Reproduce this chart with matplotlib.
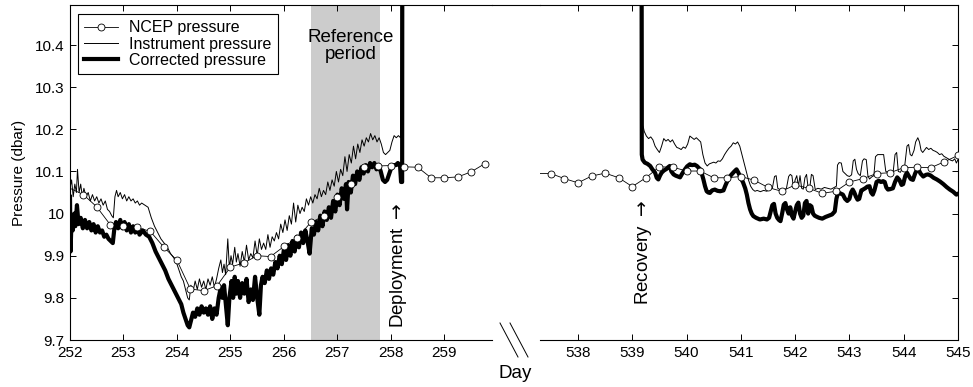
import matplotlib
matplotlib.use("Agg")
import matplotlib.pyplot as plt
from matplotlib.lines import Line2D

plt.rcParams['font.family'] = ['Liberation Sans', 'DejaVu Sans']

# NCEP pressure, 6-hourly
ncep_day_a = [252.0, 252.25, 252.5, 252.75, 253.0, 253.25, 253.5, 253.75, 254.0, 254.25, 254.5,
              254.75, 255.0, 255.25, 255.5, 255.75, 256.0, 256.25, 256.5, 256.75, 257.0,
              257.25, 257.5, 257.75, 258.0, 258.25, 258.5, 258.75, 259.0, 259.25, 259.5, 259.75]
ncep_val_a = [10.06, 10.045, 10.016, 9.974, 9.970, 9.967, 9.958, 9.921, 9.889, 9.821, 9.817,
              9.829, 9.873, 9.883, 9.900, 9.898, 9.922, 9.942, 9.979, 9.994, 10.040,
              10.070, 10.111, 10.113, 10.114, 10.111, 10.110, 10.085, 10.085, 10.087, 10.099, 10.118]
ncep_day_b = [537.25, 537.5, 537.75, 538.0, 538.25, 538.5, 538.75, 539.0, 539.25, 539.5, 539.75, 540.0,
              540.25, 540.5, 540.75, 541.0, 541.25, 541.5, 541.75, 542.0, 542.25, 542.5,
              542.75, 543.0, 543.25, 543.5, 543.75, 544.0, 544.25, 544.5, 544.75, 545.0]
ncep_val_b = [10.095, 10.095, 10.083, 10.073, 10.089, 10.096, 10.085, 10.064, 10.085, 10.111, 10.110, 10.101,
              10.101, 10.085, 10.085, 10.088, 10.079, 10.062, 10.053, 10.068, 10.060, 10.048,
              10.053, 10.075, 10.083, 10.095, 10.097, 10.109, 10.110, 10.109, 10.123, 10.138]

# instrument pressure, deployment
inst_day_a = [252.00, 252.03, 252.06, 252.09, 252.12, 252.14, 252.17, 252.20, 252.23, 252.26,
              252.30, 252.34, 252.38, 252.42, 252.46, 252.50, 252.54, 252.58, 252.62, 252.66,
              252.70, 252.74, 252.78, 252.81, 252.84, 252.87, 252.90, 252.94, 252.98, 253.02,
              253.06, 253.10, 253.14, 253.18, 253.22, 253.26, 253.30, 253.34, 253.40, 253.46,
              253.52, 253.58, 253.64, 253.70, 253.76, 253.82, 253.88, 253.94, 254.00, 254.04,
              254.08, 254.12, 254.16, 254.20, 254.23, 254.26, 254.30, 254.34, 254.38, 254.42,
              254.46, 254.50, 254.54, 254.58, 254.62, 254.66, 254.70, 254.74, 254.78, 254.82,
              254.85, 254.88, 254.91, 254.95, 254.98, 255.01, 255.04, 255.08, 255.11, 255.14,
              255.18, 255.22, 255.26, 255.30, 255.34, 255.38, 255.42, 255.46, 255.50, 255.54,
              255.58, 255.62, 255.66, 255.70, 255.74, 255.78, 255.82, 255.86, 255.90, 255.94,
              255.98, 256.02, 256.06, 256.10, 256.14, 256.18, 256.22, 256.26, 256.30, 256.34,
              256.38, 256.42, 256.46, 256.50, 256.54, 256.58, 256.62, 256.66, 256.70, 256.74,
              256.78, 256.82, 256.86, 256.90, 256.94, 256.98, 257.02, 257.06, 257.10, 257.14,
              257.18, 257.22, 257.26, 257.30, 257.34, 257.38, 257.42, 257.46, 257.50, 257.54,
              257.58, 257.62, 257.66, 257.70, 257.74, 257.78, 257.82, 257.86, 257.90, 257.94,
              257.98, 258.02, 258.06, 258.10, 258.14, 258.18, 258.20]
inst_val_a = [10.06, 10.08, 10.04, 10.07, 10.05, 10.105, 10.05, 10.07, 10.04, 10.06,
              10.04, 10.05, 10.03, 10.045, 10.03, 10.04, 10.025, 10.035, 10.02, 10.03,
              10.01, 10.005, 9.995, 9.99, 10.04, 10.055, 10.04, 10.05, 10.035, 10.045,
              10.03, 10.04, 10.03, 10.035, 10.025, 10.03, 10.02, 10.025, 10.02, 10.015,
              9.99, 9.97, 9.955, 9.94, 9.93, 9.92, 9.905, 9.895, 9.88, 9.865,
              9.85, 9.84, 9.82, 9.80, 9.795, 9.83, 9.815, 9.84, 9.82, 9.845,
              9.825, 9.84, 9.82, 9.845, 9.83, 9.85, 9.825, 9.845, 9.87, 9.89,
              9.86, 9.88, 9.855, 9.94, 9.87, 9.90, 9.88, 9.92, 9.885, 9.905,
              9.875, 9.91, 9.885, 9.925, 9.89, 9.905, 9.895, 9.935, 9.90, 9.94,
              9.915, 9.93, 9.915, 9.95, 9.92, 9.945, 9.935, 9.955, 9.94, 9.975,
              9.955, 9.985, 9.96, 9.995, 9.975, 10.025, 9.98, 10.02, 10.0, 10.015,
              10.005, 10.035, 10.02, 10.04, 10.025, 10.045, 10.035, 10.06, 10.04, 10.055,
              10.045, 10.075, 10.055, 10.08, 10.065, 10.10, 10.075, 10.105, 10.09, 10.135,
              10.10, 10.14, 10.12, 10.16, 10.13, 10.165, 10.145, 10.175, 10.16, 10.18,
              10.17, 10.19, 10.175, 10.185, 10.17, 10.18, 10.165, 10.145, 10.14, 10.145,
              10.15, 10.17, 10.185, 10.18, 10.185, 10.18, 10.7]

# corrected pressure, deployment
corr_day_a = [252.00, 252.01, 252.03, 252.05, 252.08, 252.10, 252.13, 252.16, 252.20, 252.24,
              252.28, 252.32, 252.36, 252.40, 252.44, 252.48, 252.52, 252.56, 252.60, 252.64,
              252.68, 252.72, 252.76, 252.80, 252.83, 252.86, 252.90, 252.94, 252.98, 253.02,
              253.06, 253.10, 253.14, 253.18, 253.22, 253.26, 253.30, 253.36, 253.42, 253.48,
              253.54, 253.60, 253.66, 253.72, 253.78, 253.84, 253.90, 253.96, 254.02, 254.08,
              254.12, 254.16, 254.20, 254.23, 254.26, 254.30, 254.34, 254.38, 254.42, 254.46,
              254.50, 254.54, 254.58, 254.62, 254.66, 254.70, 254.74, 254.78, 254.82, 254.85,
              254.88, 254.91, 254.95, 254.98, 255.02, 255.05, 255.08, 255.11, 255.14, 255.18,
              255.22, 255.26, 255.30, 255.34, 255.38, 255.42, 255.46, 255.50, 255.54, 255.57,
              255.60, 255.64, 255.68, 255.72, 255.76, 255.80, 255.84, 255.88, 255.92, 255.96,
              256.00, 256.04, 256.08, 256.12, 256.16, 256.20, 256.24, 256.28, 256.32, 256.36,
              256.40, 256.44, 256.48, 256.52, 256.56, 256.60, 256.64, 256.68, 256.72, 256.76,
              256.80, 256.84, 256.88, 256.92, 256.96, 257.00, 257.04, 257.08, 257.12, 257.16,
              257.18, 257.21, 257.25, 257.29, 257.33, 257.37, 257.41, 257.45, 257.49, 257.53,
              257.57, 257.61, 257.65, 257.69, 257.73, 257.77, 257.81, 257.85, 257.89, 257.93,
              257.97, 258.01, 258.05, 258.09, 258.13, 258.17, 258.19, 258.21, 258.215]
corr_val_a = [10.04, 9.91, 9.99, 9.96, 10.0, 9.97, 10.02, 9.975, 9.99, 9.965,
              9.985, 9.965, 9.98, 9.96, 9.975, 9.955, 9.97, 9.955, 9.96, 9.945,
              9.95, 9.94, 9.935, 9.93, 9.965, 9.98, 9.965, 9.985, 9.965, 9.98,
              9.96, 9.975, 9.955, 9.97, 9.955, 9.965, 9.95, 9.96, 9.95, 9.945,
              9.93, 9.91, 9.895, 9.88, 9.865, 9.845, 9.83, 9.815, 9.80, 9.785,
              9.765, 9.75, 9.735, 9.73, 9.745, 9.765, 9.755, 9.775, 9.76, 9.78,
              9.765, 9.775, 9.76, 9.78, 9.75, 9.775, 9.76, 9.80, 9.825, 9.80,
              9.83, 9.79, 9.735, 9.80, 9.84, 9.80, 9.85, 9.81, 9.84, 9.80,
              9.835, 9.81, 9.845, 9.79, 9.82, 9.795, 9.85, 9.80, 9.76, 9.83,
              9.85, 9.835, 9.865, 9.845, 9.87, 9.855, 9.885, 9.87, 9.90, 9.88,
              9.915, 9.89, 9.925, 9.90, 9.935, 9.91, 9.945, 9.92, 9.955, 9.93,
              9.96, 9.935, 9.905, 9.965, 9.95, 9.98, 9.96, 9.995, 9.97, 10.005,
              9.985, 10.015, 9.99, 10.03, 10.005, 10.045, 10.02, 10.06, 10.035, 10.07,
              10.01, 10.075, 10.05, 10.09, 10.07, 10.10, 10.08, 10.11, 10.095, 10.115,
              10.10, 10.12, 10.11, 10.12, 10.105, 10.115, 10.10, 10.08, 10.075, 10.08,
              10.095, 10.11, 10.115, 10.115, 10.12, 10.115, 10.075, 10.075, 11.0]

# instrument pressure, recovery
inst_day_b = [539.19, 539.195, 539.22, 539.26, 539.30, 539.34, 539.38, 539.42, 539.46, 539.50,
              539.54, 539.58, 539.62, 539.66, 539.70, 539.74, 539.78, 539.82, 539.86, 539.90,
              539.94, 539.98, 540.02, 540.06, 540.10, 540.14, 540.18, 540.22, 540.26, 540.30,
              540.34, 540.38, 540.42, 540.46, 540.50, 540.54, 540.58, 540.62, 540.66, 540.70,
              540.74, 540.78, 540.82, 540.86, 540.90, 540.94, 540.98, 541.02, 541.06, 541.10,
              541.14, 541.18, 541.22, 541.26, 541.30, 541.36, 541.42, 541.48,
              541.54, 541.58, 541.62, 541.65, 541.68, 541.72, 541.76, 541.80, 541.84, 541.88,
              541.91, 541.94, 541.97, 542.00, 542.03, 542.06, 542.09, 542.12, 542.15, 542.18,
              542.21, 542.24, 542.27, 542.30, 542.33, 542.37, 542.42, 542.48, 542.54, 542.60,
              542.66, 542.72, 542.76, 542.78, 542.81, 542.85, 542.88, 542.92, 542.96, 543.00,
              543.04, 543.07, 543.10, 543.13, 543.16, 543.20, 543.24, 543.27, 543.31, 543.34,
              543.37, 543.41, 543.45, 543.48, 543.52, 543.58, 543.63, 543.67, 543.71, 543.76,
              543.80, 543.84, 543.87, 543.90, 543.94, 543.98, 544.02, 544.06, 544.09, 544.12,
              544.15, 544.19, 544.22, 544.26, 544.29, 544.32, 544.35, 544.39, 544.42, 544.46,
              544.50, 544.54, 544.58, 544.62, 544.66, 544.70, 544.74, 544.78, 544.82, 544.86,
              544.90, 544.94, 544.97, 545.00]
inst_val_b = [10.7, 10.21, 10.195, 10.184, 10.178, 10.182, 10.175, 10.16, 10.152, 10.145,
              10.16, 10.178, 10.172, 10.176, 10.17, 10.175, 10.165, 10.157, 10.155, 10.152,
              10.158, 10.155, 10.165, 10.184, 10.18, 10.176, 10.18, 10.175, 10.17, 10.14,
              10.12, 10.113, 10.118, 10.12, 10.122, 10.12, 10.125, 10.124, 10.13, 10.14,
              10.148, 10.155, 10.16, 10.168, 10.165, 10.17, 10.16, 10.14, 10.12, 10.10,
              10.08, 10.065, 10.057, 10.053, 10.055, 10.052, 10.055, 10.053,
              10.064, 10.06, 10.088, 10.09, 10.06, 10.057, 10.058, 10.056, 10.06, 10.088,
              10.093, 10.09, 10.06, 10.08, 10.09, 10.065, 10.09, 10.06, 10.058, 10.085,
              10.093, 10.06, 10.062, 10.093, 10.09, 10.057, 10.06, 10.058, 10.062, 10.06,
              10.058, 10.062, 10.065, 10.115, 10.121, 10.12, 10.10, 10.095, 10.09, 10.088,
              10.092, 10.125, 10.129, 10.105, 10.095, 10.09, 10.125, 10.13, 10.128, 10.09,
              10.082, 10.087, 10.09, 10.135, 10.14, 10.14, 10.14, 10.10, 10.098, 10.094,
              10.092, 10.14, 10.145, 10.10, 10.098, 10.11, 10.115, 10.16, 10.164, 10.14,
              10.137, 10.15, 10.17, 10.18, 10.17, 10.15, 10.145, 10.152, 10.157, 10.152,
              10.155, 10.15, 10.148, 10.145, 10.14, 10.142, 10.136, 10.133, 10.13, 10.127,
              10.125, 10.13, 10.12, 10.128]

# corrected pressure, recovery
corr_day_b = [539.17, 539.175, 539.19, 539.23, 539.28, 539.33, 539.37, 539.42, 539.45, 539.48,
              539.51, 539.54, 539.58, 539.63, 539.66, 539.69, 539.72, 539.76, 539.80, 539.84,
              539.88, 539.92, 539.97, 540.01, 540.06, 540.10, 540.15, 540.19, 540.25, 540.28,
              540.31, 540.34, 540.37, 540.40, 540.43, 540.47, 540.52, 540.57, 540.62, 540.68,
              540.71, 540.74, 540.78, 540.83, 540.88, 540.92, 540.95, 540.98, 541.01, 541.04,
              541.08, 541.11, 541.14, 541.17, 541.20, 541.23, 541.28, 541.35, 541.42, 541.48,
              541.52, 541.55, 541.58, 541.61, 541.64, 541.67, 541.70, 541.73, 541.76, 541.79,
              541.82, 541.85, 541.88, 541.91, 541.94, 541.97, 542.00, 542.03, 542.06, 542.09,
              542.12, 542.15, 542.18, 542.21, 542.24, 542.27, 542.30, 542.33, 542.36, 542.39,
              542.44, 542.50, 542.56, 542.62, 542.68, 542.73, 542.76, 542.79, 542.83, 542.88,
              542.92, 542.96, 543.00, 543.03, 543.06, 543.09, 543.12, 543.15, 543.18, 543.22,
              543.25, 543.29, 543.33, 543.37, 543.40, 543.43, 543.46, 543.50, 543.54, 543.58,
              543.62, 543.65, 543.68, 543.71, 543.75, 543.80, 543.84, 543.88, 543.92, 543.96,
              543.99, 544.03, 544.06, 544.09, 544.13, 544.17, 544.21, 544.24, 544.27, 544.31,
              544.36, 544.41, 544.45, 544.50, 544.55, 544.61, 544.67, 544.73, 544.79, 544.85,
              544.91, 544.97, 545.00]
corr_val_b = [10.7, 10.14, 10.128, 10.121, 10.118, 10.113, 10.105, 10.097, 10.085, 10.081,
              10.09, 10.097, 10.102, 10.106, 10.11, 10.113, 10.10, 10.093, 10.09, 10.088,
              10.086, 10.095, 10.105, 10.112, 10.117, 10.115, 10.116, 10.113, 10.105, 10.095,
              10.081, 10.065, 10.053, 10.05, 10.049, 10.055, 10.057, 10.054, 10.053, 10.055,
              10.065, 10.074, 10.085, 10.093, 10.10, 10.105, 10.098, 10.09, 10.082, 10.074,
              10.06, 10.045, 10.025, 10.01, 10.0, 9.994, 9.99, 9.986, 9.988, 9.986,
              9.99, 10.005, 10.02, 10.023, 10.0, 9.99, 9.985, 9.982, 10.0, 10.021,
              10.025, 10.01, 10.0, 10.015, 9.995, 9.988, 10.005, 10.02, 10.026, 10.0,
              9.99, 9.995, 10.025, 10.03, 10.0, 10.02, 10.017, 10.0, 9.995, 9.993,
              9.99, 9.988, 9.992, 9.995, 9.998, 10.005, 10.035, 10.05, 10.048, 10.045,
              10.035, 10.03, 10.035, 10.05, 10.057, 10.05, 10.04, 10.033, 10.035, 10.055,
              10.057, 10.06, 10.064, 10.065, 10.05, 10.045, 10.055, 10.075, 10.078, 10.075,
              10.077, 10.075, 10.062, 10.057, 10.058, 10.06, 10.075, 10.086, 10.08, 10.068,
              10.07, 10.09, 10.097, 10.09, 10.082, 10.08, 10.095, 10.103, 10.105, 10.095,
              10.088, 10.092, 10.093, 10.09, 10.085, 10.081, 10.076, 10.07, 10.063, 10.057,
              10.052, 10.045, 10.047]

ref_period = (256.5, 257.8)
yticks = [9.7, 9.8, 9.9, 10.0, 10.1, 10.2, 10.3, 10.4]
ytick_labels = ['9.7', '9.8', '9.9', '10', '10.1', '10.2', '10.3', '10.4']
xticks_a = [252, 253, 254, 255, 256, 257, 258, 259]
xticks_b = [538, 539, 540, 541, 542, 543, 544, 545]

W, H = 973, 387
fig = plt.figure(figsize=(W / 100, H / 100), dpi=100)
ax1 = fig.add_axes([70 / W, 1 - 340 / H, 422 / W, 335 / H])
ax2 = fig.add_axes([540 / W, 1 - 340 / H, 418 / W, 335 / H])

ncep_style = dict(color='black', lw=0.6, marker='o', ms=5, mfc='white', mec='black', mew=0.6, zorder=5)

ax1.axvspan(*ref_period, color='#cccccc', lw=0, zorder=0)
ax1.plot(inst_day_a, inst_val_a, color='black', lw=0.7, zorder=3, label='Instrument pressure')
ax1.plot(corr_day_a, corr_val_a, color='black', lw=3.0, zorder=4, label='Corrected pressure')
# first 6-hourly value sits on the left frame, no marker drawn there
ax1.plot(ncep_day_a, ncep_val_a, markevery=list(range(1, len(ncep_day_a))),
         label='NCEP pressure', **ncep_style)

ax2.plot(inst_day_b, inst_val_b, color='black', lw=0.7, zorder=3)
ax2.plot(corr_day_b, corr_val_b, color='black', lw=3.0, zorder=4)
ax2.plot(ncep_day_b, ncep_val_b, markevery=list(range(1, len(ncep_day_b))), **ncep_style)

for ax in (ax1, ax2):
    ax.set_ylim(9.7, 10.495)
    ax.set_yticks(yticks)
    for s in ax.spines.values():
        s.set_linewidth(0.8)
ax1.set_xlim(252, 259.89)
ax2.set_xlim(537.3, 545)
ax1.set_xticks(xticks_a)
ax2.set_xticks(xticks_b)
ax1.set_yticklabels(ytick_labels)
ax1.spines['right'].set_visible(False)
ax2.spines['left'].set_visible(False)
ax1.tick_params(direction='in', top=True, right=False, length=4, width=0.7, labelsize=11, pad=4)
ax2.tick_params(direction='in', top=True, left=False, right=True, labelleft=False,
                length=4, width=0.7, labelsize=11, pad=4)
ax1.set_ylabel('Pressure (dbar)', fontsize=11, labelpad=6)

# legend in the order of the reference
h, l = ax1.get_legend_handles_labels()
order = [2, 0, 1]
leg = ax1.legend([h[i] for i in order], [l[i] for i in order], loc='upper left',
                 bbox_to_anchor=(8 / 422, 1 - 9 / 335), borderaxespad=0, fontsize=11.5,
                 fancybox=False, framealpha=1, edgecolor='black', handlelength=2.1,
                 handletextpad=0.7, labelspacing=0.08, borderpad=0.4)
leg.get_frame().set_linewidth(0.8)

ax1.text(257.25, 10.398, 'Reference\nperiod', ha='center', va='center', fontsize=13.5,
         linespacing=1.0, zorder=6)
ax1.text(258.15, 9.728, r'Deployment $\rightarrow$', rotation=90, ha='center', va='bottom', fontsize=13.5)
ax2.text(539.2, 9.783, r'Recovery $\rightarrow$', rotation=90, ha='center', va='bottom', fontsize=13.5)

# top frame line across the axis break, and break marks
fig.add_artist(Line2D([492 / W, 540 / W], [1 - 5 / H, 1 - 5 / H], color='black', lw=0.8))
fig.add_artist(Line2D([500 / W, 518 / W], [1 - 323 / H, 1 - 357 / H], color='black', lw=0.7))
fig.add_artist(Line2D([510 / W, 528 / W], [1 - 323 / H, 1 - 357 / H], color='black', lw=0.7))
fig.text(515 / W, 1 - 373 / H, 'Day', ha='center', va='center', fontsize=13.5)

fig.savefig('out.png', dpi=100)
